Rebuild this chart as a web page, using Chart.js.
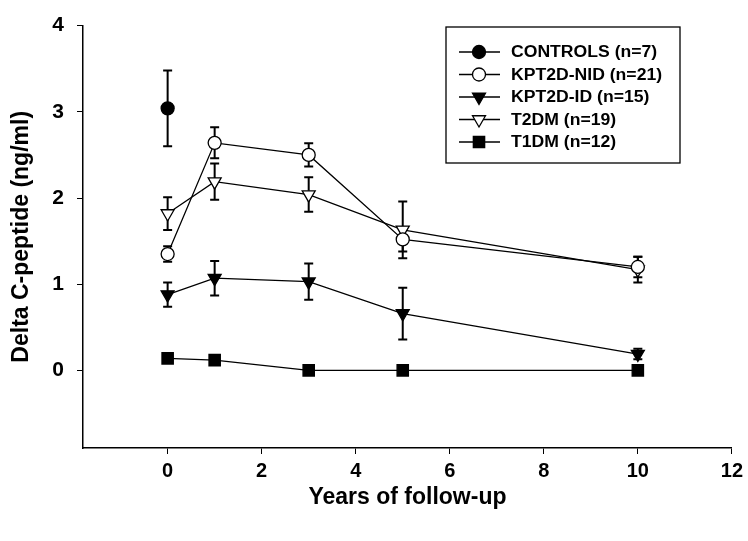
<!DOCTYPE html>
<html>
<head>
<meta charset="utf-8">
<style>
  html, body { margin: 0; padding: 0; background: #fff; }
  #wrap { width: 748px; height: 541px; }
</style>
</head>
<body>
<div id="wrap"><canvas id="myChart" width="748" height="541"></canvas></div>
<script src="https://cdn.jsdelivr.net/npm/chart.js@4.4.0/dist/chart.umd.min.js"></script>
<script>
// years of follow-up
const years = [0, 1, 3, 5, 10];

// CONTROLS only measured at baseline
const controlsYears = [0];
const controls = [3.04];
const controlsErr = [0.44];

const kptNid = [1.35, 2.64, 2.50, 1.52, 1.20];
const kptNidErr = [0.09, 0.18, 0.135, 0.14, 0.12];

const kptId = [0.88, 1.07, 1.03, 0.66, 0.19];
const kptIdErr = [0.14, 0.20, 0.21, 0.30, 0.06];

const t2dm = [1.82, 2.19, 2.04, 1.63, 1.17];
const t2dmErr = [0.19, 0.21, 0.20, 0.33, 0.15];

const t1dm = [0.14, 0.12, 0.0, 0.0, 0.0];
const t1dmErr = [0.02, 0.02, 0.01, 0.01, 0.01];

const xTicks = [0, 2, 4, 6, 8, 10, 12];
const yTicks = [0, 1, 2, 3, 4];

const FONT = "'Liberation Sans', Arial, sans-serif";

function pts(xs, ys) {
    return xs.map((x, i) => ({ x: x, y: ys[i] }));
}

function series(label, xs, ys, errs, style, fill, rot) {
    return {
        label: label,
        data: pts(xs, ys),
        errors: errs,
        borderColor: '#000',
        borderWidth: 1.3,
        backgroundColor: fill,
        pointStyle: style,
        pointRotation: rot || 0,
        pointRadius: style === 'rect' ? 8 : (style === 'triangle' ? 7.5 : 6.5),
        pointBorderWidth: 1.3,
        pointBorderColor: '#000',
        pointBackgroundColor: fill,
        tension: 0
    };
}

// draws the +/- error bars from the dataset errors through the scales
const errorBars = {
    id: 'errorBars',
    beforeDatasetsDraw(chart) {
        const { ctx, scales: { x, y } } = chart;
        ctx.save();
        ctx.strokeStyle = '#000';
        ctx.lineWidth = 2;
        chart.data.datasets.forEach(ds => {
            ds.data.forEach((p, i) => {
                const e = ds.errors[i];
                if (!e) return;
                const px = x.getPixelForValue(p.x);
                const top = y.getPixelForValue(p.y + e);
                const bot = y.getPixelForValue(p.y - e);
                ctx.beginPath();
                ctx.moveTo(px, top);
                ctx.lineTo(px, bot);
                ctx.moveTo(px - 4.5, top);
                ctx.lineTo(px + 4.5, top);
                ctx.moveTo(px - 4.5, bot);
                ctx.lineTo(px + 4.5, bot);
                ctx.stroke();
            });
        });
        ctx.restore();
    }
};

function drawMarker(ctx, ds, cx, cy) {
    const r = ds.pointRadius;
    ctx.beginPath();
    if (ds.pointStyle === 'circle') {
        ctx.arc(cx, cy, r, 0, Math.PI * 2);
    } else if (ds.pointStyle === 'rect') {
        const s = r * Math.SQRT1_2;
        ctx.rect(cx - s, cy - s, 2 * s, 2 * s);
    } else {
        ctx.moveTo(cx, cy + r);
        ctx.lineTo(cx - r * 0.866, cy - r * 0.5);
        ctx.lineTo(cx + r * 0.866, cy - r * 0.5);
        ctx.closePath();
    }
    ctx.fillStyle = ds.pointBackgroundColor;
    ctx.fill();
    ctx.lineWidth = ds.pointBorderWidth;
    ctx.strokeStyle = '#000';
    ctx.stroke();
}

// boxed legend inside the plot, top right
const boxLegend = {
    id: 'boxLegend',
    afterDraw(chart) {
        const { ctx } = chart;
        const bx = 446, by = 27, bw = 234, bh = 136;
        ctx.save();
        ctx.strokeStyle = '#000';
        ctx.lineWidth = 1.3;
        ctx.strokeRect(bx, by, bw, bh);
        ctx.font = 'bold 16px ' + FONT;
        ctx.textBaseline = 'middle';
        chart.data.datasets.forEach((ds, i) => {
            const ly = 52 + i * 22.5;
            ctx.beginPath();
            ctx.lineWidth = 1.3;
            ctx.strokeStyle = '#000';
            ctx.moveTo(459, ly);
            ctx.lineTo(500, ly);
            ctx.stroke();
            drawMarker(ctx, ds, 479, ly);
            // the printed legend type is wide, so stretch it a little
            ctx.save();
            ctx.translate(511, ly + 1);
            ctx.scale(1.1, 1);
            ctx.fillStyle = '#000';
            ctx.fillText(ds.label, 0, 0);
            ctx.restore();
        });
        ctx.restore();
    }
};

const ctx = document.getElementById('myChart');

const chart = new Chart(ctx, {
    type: 'line',
    plugins: [errorBars, boxLegend],
    data: {
        datasets: [
            series('CONTROLS (n=7)', controlsYears, controls, controlsErr, 'circle', '#000'),
            series('KPT2D-NID (n=21)', years, kptNid, kptNidErr, 'circle', '#fff'),
            series('KPT2D-ID (n=15)', years, kptId, kptIdErr, 'triangle', '#000', 180),
            series('T2DM (n=19)', years, t2dm, t2dmErr, 'triangle', '#fff', 180),
            series('T1DM (n=12)', years, t1dm, t1dmErr, 'rect', '#000')
        ]
    },
    options: {
        responsive: false,
        animation: false,
        layout: { padding: { top: 15, right: 13, left: 0, bottom: 0 } },
        plugins: {
            legend: { display: false },
            tooltip: { enabled: false }
        },
        scales: {
            x: {
                type: 'linear',
                min: -1.8,
                max: 12,
                afterBuildTicks: axis => { axis.ticks = xTicks.map(v => ({ value: v })); },
                afterFit: axis => { axis.height = 93; },
                grid: { drawOnChartArea: false, drawTicks: true, tickLength: 6, color: '#000', lineWidth: 1 },
                border: { display: true, color: '#000', width: 1.5 },
                ticks: {
                    color: '#000',
                    padding: 5,
                    maxRotation: 0,
                    font: { family: FONT, size: 20, weight: 'bold' }
                },
                title: {
                    display: true,
                    text: 'Years of follow-up',
                    color: '#000',
                    padding: { top: 0, bottom: 30 },
                    font: { family: FONT, size: 23, weight: 'bold' }
                }
            },
            y: {
                type: 'linear',
                min: -0.9,
                max: 4,
                afterBuildTicks: axis => { axis.ticks = yTicks.map(v => ({ value: v })); },
                afterFit: axis => { axis.width = 83; },
                grid: { drawOnChartArea: false, drawTicks: true, tickLength: 6, color: '#000', lineWidth: 1 },
                border: { display: true, color: '#000', width: 1.5 },
                ticks: {
                    color: '#000',
                    padding: 13,
                    font: { family: FONT, size: 21, weight: 'bold' }
                },
                title: {
                    display: true,
                    text: 'Delta C-peptide (ng/ml)',
                    color: '#000',
                    padding: { top: 8, bottom: 0 },
                    font: { family: FONT, size: 23, weight: 'bold' }
                }
            }
        }
    }
});
</script>
</body>
</html>
